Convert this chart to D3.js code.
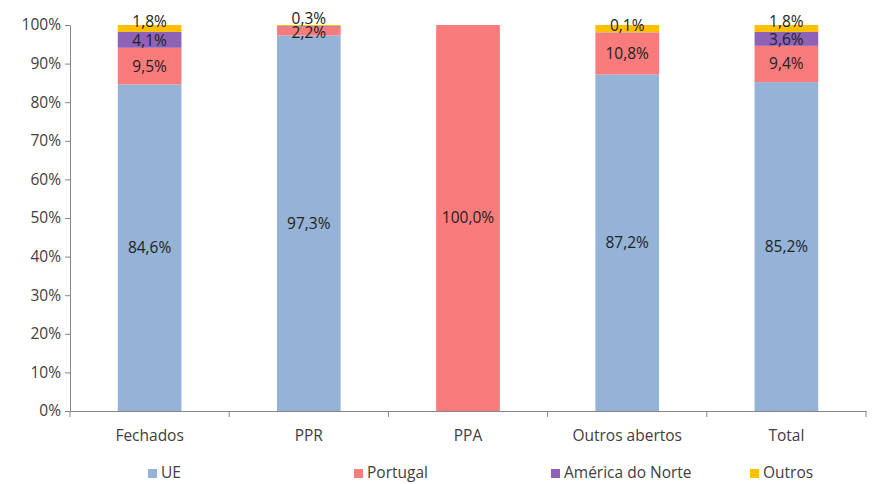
<!DOCTYPE html>
<html>
<head>
<meta charset="utf-8">
<script src="https://cdn.jsdelivr.net/npm/d3@7"></script>
<style>
  body { margin: 0; background: #fff; }
  text { font-family: 'Open Sans', 'Liberation Sans', sans-serif; }
</style>
</head>
<body>
<div id="chart"></div>
<script>
// --- Data ---
const categories = ['Fechados', 'PPR', 'PPA', 'Outros abertos', 'Total'];
const seriesNames = ['UE', 'Portugal', 'América do Norte', 'Outros'];
const ue = [84.6, 97.3, 0, 87.2, 85.2];
const portugal = [9.5, 2.2, 100, 10.8, 9.4];
const americaNorte = [4.1, 0.2, 0, 0.1, 3.6];
const outros = [1.8, 0.3, 0, 1.9, 1.8];
// labels that the original chart does not show: [series, category]
const hiddenLabels = [['América do Norte', 'PPR'], ['Outros', 'Outros abertos']];
const yTicks = [0, 10, 20, 30, 40, 50, 60, 70, 80, 90, 100];
const colors = ['#95B3D7', '#FA7B7B', '#8E62B6', '#FFC000'];

const W = 874, H = 484;
const margin = {top: 25, right: 8, bottom: 73, left: 70};
const width = W - margin.left - margin.right;
const height = H - margin.top - margin.bottom;
const FONT = '15.5px';

const svg = d3.select('#chart').append('svg')
    .attr('width', W).attr('height', H);
const g = svg.append('g')
    .attr('transform', `translate(${margin.left},${margin.top})`);

const values = [ue, portugal, americaNorte, outros];
const rows = categories.map((c, i) => {
    const r = {cat: c};
    seriesNames.forEach((s, k) => { r[s] = values[k][i]; });
    return r;
});
const stacked = d3.stack().keys(seriesNames)
    .offset(d3.stackOffsetExpand)(rows);

const x = d3.scaleBand().domain(categories).range([0, width]).paddingInner(0).paddingOuter(0);
const y = d3.scaleLinear().domain([0, 1]).range([height, 0]);
const barW = x.bandwidth() * 0.4;

// Bars
stacked.forEach((layer, k) => {
    g.append('g').selectAll('rect').data(layer).join('rect')
        .attr('x', d => x(d.data.cat) + (x.bandwidth() - barW) / 2)
        .attr('y', d => y(d[1]))
        .attr('width', barW)
        .attr('height', d => Math.max(0, y(d[0]) - y(d[1])))
        .attr('fill', colors[k]);
});

// Labels
const isHidden = (s, c) => hiddenLabels.some(h => h[0] === s && h[1] === c);
stacked.forEach((layer, k) => {
    const s = seriesNames[k];
    layer.forEach(d => {
        const v = d.data[s];
        if (!v || isHidden(s, d.data.cat)) return;
        let cy = y((d[0] + d[1]) / 2);
        if (s === 'Outros') cy -= 7;
        if (s === 'América do Norte') cy += (v < 1 ? -7 : 1);
        if (s === 'Portugal' && v < 5) cy += 1;
        g.append('text')
            .attr('x', x(d.data.cat) + x.bandwidth() / 2)
            .attr('y', cy)
            .attr('dy', '0.35em')
            .attr('text-anchor', 'middle')
            .style('font-size', FONT)
            .style('fill', '#222')
            .text(v.toFixed(1).replace('.', ',') + '%');
    });
});

// Y axis
const yAxis = g.append('g')
    .call(d3.axisLeft(y).tickValues(yTicks.map(t => t / 100))
        .tickFormat((t, i) => yTicks[i] + '%').tickSize(5).tickSizeOuter(0));
yAxis.select('.domain').attr('stroke', '#868686');
yAxis.selectAll('.tick line').attr('stroke', '#868686');
yAxis.selectAll('.tick text').attr('x', -9)
    .style('font-size', FONT).style('fill', '#404040')
    .style('font-family', "'Open Sans', 'Liberation Sans', sans-serif");

// X axis
const xAxis = g.append('g').attr('transform', `translate(0,${height})`)
    .call(d3.axisBottom(x).tickSize(0).tickSizeOuter(0));
xAxis.select('.domain').attr('stroke', '#868686');
xAxis.selectAll('.tick text').attr('y', 19)
    .style('font-size', FONT).style('fill', '#404040')
    .style('font-family', "'Open Sans', 'Liberation Sans', sans-serif");
// boundary ticks between categories
const bounds = categories.map(c => x(c)).concat([width]);
g.append('g').selectAll('line').data(bounds).join('line')
    .attr('x1', d => d).attr('x2', d => d)
    .attr('y1', height).attr('y2', height + 6)
    .attr('stroke', '#868686');

// Legend
const legendX = [148, 354, 551, 750];
const legend = svg.append('g');
seriesNames.forEach((s, k) => {
    legend.append('rect')
        .attr('x', legendX[k]).attr('y', 469)
        .attr('width', 9).attr('height', 9)
        .attr('fill', colors[k]);
    legend.append('text')
        .attr('x', legendX[k] + 13).attr('y', 473)
        .attr('dy', '0.35em')
        .style('font-size', FONT).style('fill', '#404040')
        .text(s);
});
</script>
</body>
</html>
